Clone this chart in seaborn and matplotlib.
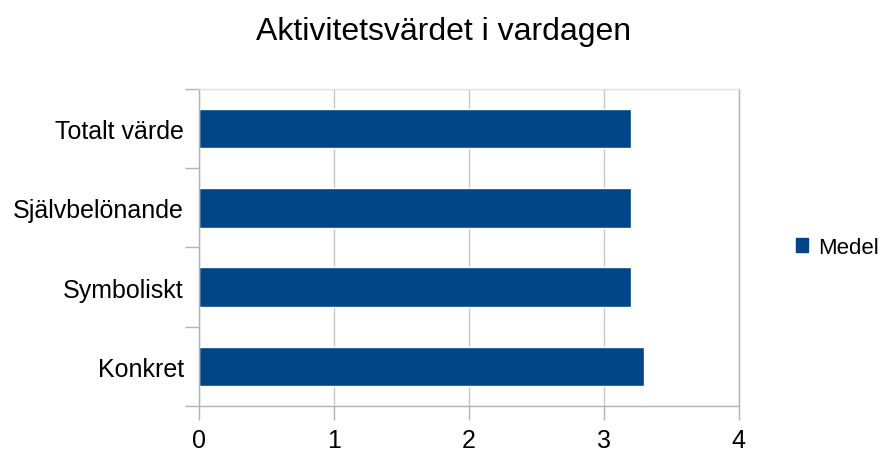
import matplotlib
matplotlib.use("Agg")
import matplotlib.pyplot as plt
import seaborn as sns
import pandas as pd
from matplotlib.patches import Patch

categories = ["Totalt värde", "Självbelönande", "Symboliskt", "Konkret"]
medel = [3.2, 3.2, 3.2, 3.3]
x_ticks = [0, 1, 2, 3, 4]

df = pd.DataFrame({"kategori": categories, "Medel": medel})

sns.set_style("white")
plt.rcParams["font.family"] = ["Liberation Sans", "DejaVu Sans"]
plt.rcParams["text.color"] = "black"
plt.rcParams["xtick.color"] = "black"
plt.rcParams["ytick.color"] = "black"

fig = plt.figure(figsize=(8.88, 4.52), dpi=100)
ax = fig.add_axes([0.224, 0.0996, 0.608, 0.7014])

sns.barplot(data=df, y="kategori", x="Medel", orient="h", color="#004586",
            width=0.5, saturation=1, ax=ax)

ax.set_xlim(0, 4)
ax.set_ylim(3.5, -0.5)
ax.set_xticks(x_ticks)
ax.set_xticklabels([str(t) for t in x_ticks], fontsize=18)
ax.xaxis.grid(True, color="#c8c8c8", linewidth=1)
ax.set_axisbelow(True)
ax.set_xlabel("")
ax.set_ylabel("")

# category ticks sit between the bars
ax.set_yticks(range(len(categories)))
ax.set_yticklabels(categories, fontsize=18)
ax.set_yticks([-0.5, 0.5, 1.5, 2.5, 3.5], minor=True)
ax.tick_params(axis="y", which="major", left=False, length=0, pad=11)
ax.tick_params(axis="y", which="minor", left=True, length=10, color="#b3b3b3", width=1)
ax.tick_params(axis="x", which="major", bottom=True, length=10, color="#b3b3b3",
               width=1, pad=6, labelcolor="black")

for side in ["left", "right", "top", "bottom"]:
    ax.spines[side].set_color("#b3b3b3")
    ax.spines[side].set_linewidth(1)
ax.spines["top"].set_color("#e0e0e0")

fig.suptitle("Aktivitetsvärdet i vardagen", fontsize=23, y=0.962, color="black")

ax.legend(handles=[Patch(color="#004586", label="Medel")], loc="center left",
          bbox_to_anchor=(1.105, 0.5), frameon=False, fontsize=16,
          handlelength=0.55, handleheight=0.55, handletextpad=0.45,
          borderaxespad=0, borderpad=0)

fig.savefig("out.png", dpi=100)
